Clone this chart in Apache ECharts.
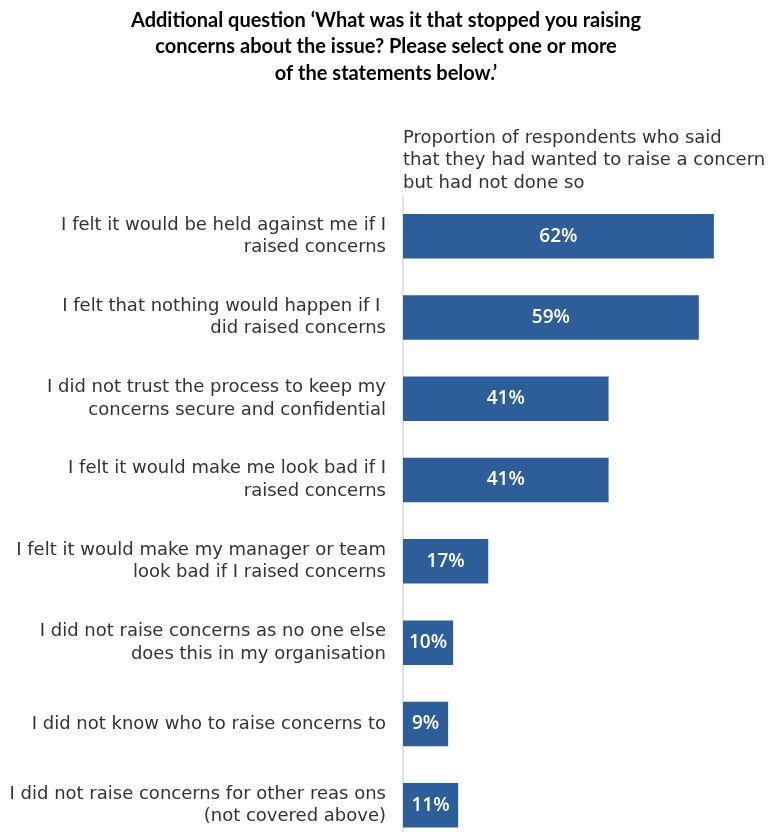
<!DOCTYPE html>
<html>
<head>
<meta charset="utf-8">
<style>
  html, body { margin: 0; padding: 0; background: #ffffff; overflow: hidden; }
  #chart { width: 769px; height: 850px; }
</style>
<script src="https://cdn.jsdelivr.net/npm/echarts@6/dist/echarts.min.js"></script>
</head>
<body>
<div id="chart"></div>
<script>
// Reasons given for not raising a concern
const categories = [
  'I felt it would be held against me if I\nraised concerns',
  'I felt that nothing would happen if I \ndid raised concerns',
  'I did not trust the process to keep my\nconcerns secure and confidential',
  'I felt it would make me look bad if I\nraised concerns',
  'I felt it would make my manager or team\nlook bad if I raised concerns',
  'I did not raise concerns as no one else\ndoes this in my organisation',
  'I did not know who to raise concerns to',
  'I did not raise concerns for other reas ons\n(not covered above)'
];
// Share of respondents (%)
const values = [62, 59, 41, 41, 17, 10, 9, 11];

const titleText = 'Additional question \u2018What was it that stopped you raising\nconcerns about the issue? Please select one or more\nof the statements below.\u2019';
const subtitleText = 'Proportion of respondents who said\nthat they had wanted to raise a concern\nbut had not done so';

const bodyFont = 'DejaVu Sans';

const chart = echarts.init(document.getElementById('chart'), null, { renderer: 'canvas' });

chart.setOption({
  animation: false,
  backgroundColor: '#ffffff',
  title: {
    text: titleText,
    left: 381,
    top: 2,
    textAlign: 'center',
    textStyle: {
      fontFamily: 'Lato',
      fontWeight: 'bold',
      fontSize: 20,
      lineHeight: 26.5,
      color: '#000000'
    }
  },
  graphic: [{
    type: 'text',
    left: 403,
    top: 127,
    style: {
      text: subtitleText,
      fontFamily: bodyFont,
      fontSize: 18,
      lineHeight: 22.5,
      fill: '#333333'
    }
  }],
  grid: {
    left: 403,
    top: 195.5,
    width: 351,
    height: 650.4,
    containLabel: false
  },
  xAxis: {
    type: 'value',
    min: 0,
    max: 70,
    show: false
  },
  yAxis: {
    type: 'category',
    data: categories,
    inverse: true,
    axisLine: { show: true, lineStyle: { color: '#d9d9d9', width: 1.5 } },
    axisTick: { show: false },
    axisLabel: {
      margin: 17,
      fontFamily: bodyFont,
      fontSize: 18,
      lineHeight: 22.5,
      color: '#333333',
      align: 'right'
    }
  },
  series: [{
    type: 'bar',
    data: values,
    barWidth: 44.5,
    itemStyle: { color: '#2d5e9a' },
    label: {
      show: true,
      position: 'inside',
      formatter: '{c}%',
      color: '#ffffff',
      fontFamily: 'Open Sans',
      fontWeight: 600,
      fontSize: 19
    }
  }]
});
</script>
</body>
</html>
